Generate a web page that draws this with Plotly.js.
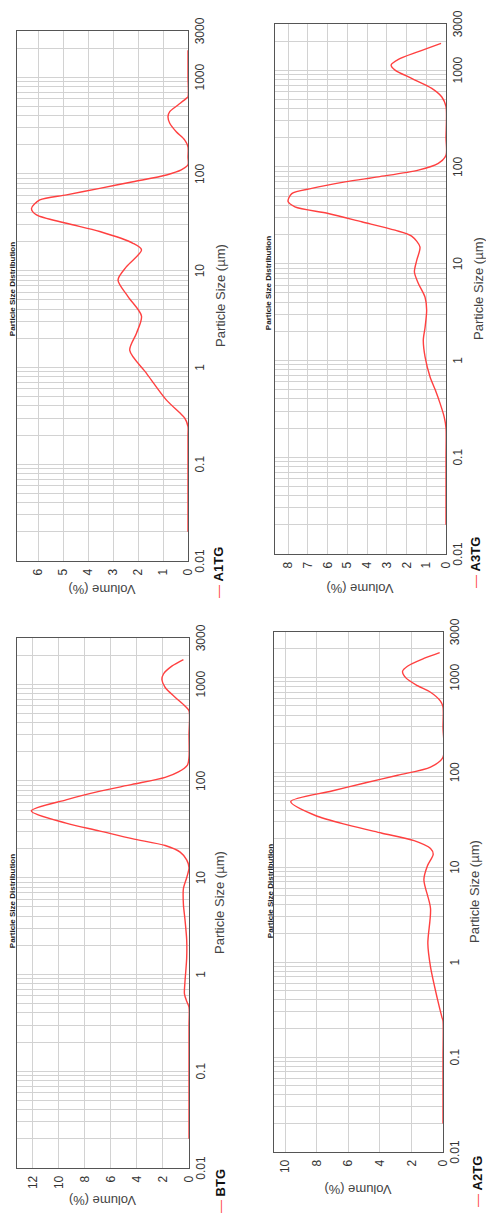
<!DOCTYPE html>
<html>
<head>
<meta charset="utf-8">
<script src="https://cdn.plot.ly/plotly-3.0.1.min.js"></script>
<style>
  html, body { margin: 0; padding: 0; background: #ffffff; }
  #page { position: relative; width: 486px; height: 1218px; overflow: hidden; background: #ffffff; }
  .panel { position: absolute; left: 0; top: 0; width: 609px; height: 243px; transform-origin: 0 0; }
</style>
</head>
<body>
<div id="page">
  <div id="pA1" class="panel"></div>
  <div id="pA3" class="panel"></div>
  <div id="pB" class="panel"></div>
  <div id="pA2" class="panel"></div>
</div>
<script>
// ---------------- DATA ----------------
const chartTitle = 'Particle Size Distribution';
const sizeAxisTitle = 'Particle Size (µm)';
const volumeAxisTitle = 'Volume (%)';
const sizeTickVals = [0.01, 0.1, 1, 10, 100, 1000, 3000];
const sizeTickText = ['0.01', '0.1', '1', '10', '100', '1000', '3000'];

// A1TG
const sizeA1TG = [0.02, 0.1, 0.2, 0.245, 0.30, 0.34, 0.46, 0.87, 1.5, 2.26, 3.4, 5.4, 8.0, 11.0, 16.4, 19.2, 25.4, 30.9, 37.7, 44, 53.8, 60.7, 71, 83, 97.6, 110, 124, 150, 191, 224, 273, 334, 391, 440, 515, 604, 628, 1000, 1900];
const volA1TG  = [0, 0, 0, 0, 0.13, 0.33, 0.86, 1.66, 2.33, 2.06, 1.86, 2.4, 2.8, 2.46, 1.86, 2.2, 3.53, 4.86, 6.06, 6.26, 5.93, 4.86, 3.53, 2.2, 0.86, 0.27, 0, 0, 0, 0.13, 0.47, 0.73, 0.8, 0.73, 0.4, 0.07, 0, 0, 0];

// A3TG
const sizeA3TG = [0.02, 0.1, 0.2, 0.26, 0.36, 0.5, 0.68, 1.09, 1.62, 2.2, 3.3, 4.5, 6.25, 8.2, 10.9, 14.9, 19.3, 22.2, 27.1, 33, 38.7, 44, 53, 60, 70, 79, 92.7, 109, 132, 200, 419, 531, 649, 822, 1002, 1130, 1294, 1553, 1893];
const volA3TG  = [0, 0, 0, 0.09, 0.3, 0.55, 0.81, 1.06, 1.15, 1.06, 0.98, 1.06, 1.4, 1.6, 1.48, 1.32, 1.74, 2.58, 4.27, 5.96, 7.65, 8.0, 7.81, 6.8, 5.11, 3.43, 1.4, 0.39, 0, 0, 0, 0.22, 0.72, 1.74, 2.58, 2.78, 2.41, 1.4, 0.25];

// BTG
const sizeBTG = [0.02, 0.1, 0.3, 0.46, 0.53, 0.63, 0.84, 1.46, 2.3, 3.7, 5.3, 7.7, 10, 12.7, 15.3, 18.4, 21.5, 25.3, 30.5, 36.6, 49, 63.8, 78, 92, 109, 124, 146, 176, 300, 531, 595, 733, 924, 1109, 1274, 1535, 1795];
const volBTG  = [0, 0, 0, 0, 0.18, 0.35, 0.31, 0.18, 0.18, 0.31, 0.43, 0.43, 0.18, 0, 0.18, 0.68, 1.83, 4.37, 6.91, 9.45, 12.12, 9.45, 6.91, 4.37, 1.83, 0.81, 0.12, 0, 0, 0, 0.31, 1.07, 1.83, 2.08, 1.96, 1.32, 0.43];

// A2TG
const sizeA2TG = [0.02, 0.1, 0.24, 0.26, 0.42, 0.89, 1.57, 3.67, 7.4, 10.3, 13.7, 15.7, 19, 22.9, 27.7, 35, 49, 63.4, 77, 93, 113, 144, 300, 487, 562, 696, 817, 986, 1158, 1309, 1580, 1820];
const volA2TG  = [0, 0, 0, 0.06, 0.37, 0.79, 0.96, 0.79, 1.21, 0.99, 0.62, 0.79, 1.83, 3.91, 5.99, 8.08, 9.64, 7.04, 4.96, 2.87, 0.79, 0, 0, 0, 0.16, 0.79, 1.62, 2.35, 2.56, 2.25, 1.21, 0.21];

// ---------------- STYLE / LAYOUT ----------------
const FONT = 'Liberation Sans, Arial, sans-serif';
const RED = 'rgb(255,64,64)';
const GRID = '#d2d2d2';
const FRAME = '#555555';
const W = 609, H = 243;

// log-axis grid positions (1..9 x decade) with labels on the main ticks
function logGrid() {
  const vals = [];
  for (let k = -2; k <= 3; k++) {
    for (let n = 1; n <= 9; n++) {
      const v = n * Math.pow(10, k);
      if (v <= 3000 + 1e-9) vals.push(v);
    }
  }
  vals.push(3000);
  const text = vals.map(v => {
    const i = sizeTickVals.findIndex(t => Math.abs(Math.log10(t) - Math.log10(v)) < 1e-6);
    return i >= 0 ? sizeTickText[i] : '';
  });
  return { vals, text };
}
const grid = logGrid();

const panels = [
  { id: 'pA1', name: 'A1TG', x: sizeA1TG, y: volA1TG, L: 0,   T: 0,   m: {l: 48, r: 31, t: 17, b: 55}, vmax: 6.84,  dtick: 1,
    titlePos: [320, 12], xTitleOy: 220, yTitleOx: 20, legOx: 9,  legOy: 218 },
  { id: 'pA3', name: 'A3TG', x: sizeA3TG, y: volA3TG, L: 243, T: 0,   m: {l: 55, r: 24, t: 32, b: 40}, vmax: 8.66,  dtick: 1,
    titlePos: [326, 25], xTitleOy: 235, yTitleOx: 21, legOx: 19, legOy: 232 },
  { id: 'pB',  name: 'BTG',  x: sizeBTG,  y: volBTG,  L: 0,   T: 609, m: {l: 50, r: 29, t: 17, b: 54}, vmax: 13.22, dtick: 2,
    titlePos: [317, 12], xTitleOy: 220, yTitleOx: 17, legOx: 3,  legOy: 221 },
  { id: 'pA2', name: 'A2TG', x: sizeA2TG, y: volA2TG, L: 243, T: 609, m: {l: 66, r: 23, t: 31, b: 43}, vmax: 10.7,  dtick: 2,
    titlePos: [327, 27], xTitleOy: 231, yTitleOx: 29, legOx: 9,  legOy: 234 }
];

panels.forEach(p => {
  const el = document.getElementById(p.id);
  el.style.transform = 'translate(' + p.L + 'px,' + (p.T + W) + 'px) rotate(-90deg)';
  const pw = W - p.m.l - p.m.r;
  const ph = H - p.m.t - p.m.b;
  const px = ox => (ox - p.m.l) / pw;
  const py = oy => (p.m.t + ph - oy) / ph;

  const trace = {
    type: 'scatter', mode: 'lines', name: p.name,
    x: p.x, y: p.y,
    line: { color: RED, width: 1.4, shape: 'spline', smoothing: 0.8 },
    hoverinfo: 'skip', showlegend: false
  };

  const layout = {
    width: W, height: H, autosize: false,
    margin: p.m,
    paper_bgcolor: '#ffffff', plot_bgcolor: '#ffffff',
    font: { family: FONT, color: '#333333', size: 12 },
    title: {
      text: '<b>' + chartTitle + '</b>',
      font: { family: FONT, size: 8, color: '#222222' },
      xref: 'container', yref: 'container',
      x: p.titlePos[0] / W, y: 1 - p.titlePos[1] / H,
      xanchor: 'center', yanchor: 'middle'
    },
    xaxis: {
      type: 'log', range: [Math.log10(0.01), Math.log10(3000)],
      tickmode: 'array', tickvals: grid.vals, ticktext: grid.text,
      showgrid: true, gridcolor: GRID, gridwidth: 1,
      showline: true, mirror: true, linecolor: FRAME, linewidth: 1.3,
      zeroline: false, ticks: '', layer: 'below traces',
      tickfont: { family: FONT, size: 12, color: '#333333' }
    },
    yaxis: {
      range: [0, p.vmax], tick0: 0, dtick: p.dtick,
      showgrid: true, gridcolor: GRID, gridwidth: 1,
      showline: true, mirror: true, linecolor: FRAME, linewidth: 1.3,
      zeroline: false, ticks: '', ticklabelstandoff: 4, layer: 'below traces',
      tickfont: { family: FONT, size: 12, color: '#333333' }
    },
    annotations: [
      { text: sizeAxisTitle, xref: 'paper', yref: 'paper',
        x: 0.5, y: py(p.xTitleOy), xanchor: 'center', yanchor: 'middle',
        showarrow: false, font: { family: FONT, size: 13, color: '#444444' } },
      { text: volumeAxisTitle, xref: 'paper', yref: 'paper',
        x: px(p.yTitleOx), y: 0.5, xanchor: 'center', yanchor: 'middle', textangle: -90,
        showarrow: false, font: { family: FONT, size: 13, color: '#444444' } },
      { text: '<span style="color:' + RED + '">—</span> <b>' + p.name + '</b>', xref: 'paper', yref: 'paper',
        x: px(p.legOx), y: py(p.legOy), xanchor: 'left', yanchor: 'middle',
        showarrow: false, font: { family: FONT, size: 13, color: '#111111' } }
    ]
  };

  Plotly.newPlot(el, [trace], layout, { displayModeBar: false, staticPlot: true });
});
</script>
</body>
</html>
